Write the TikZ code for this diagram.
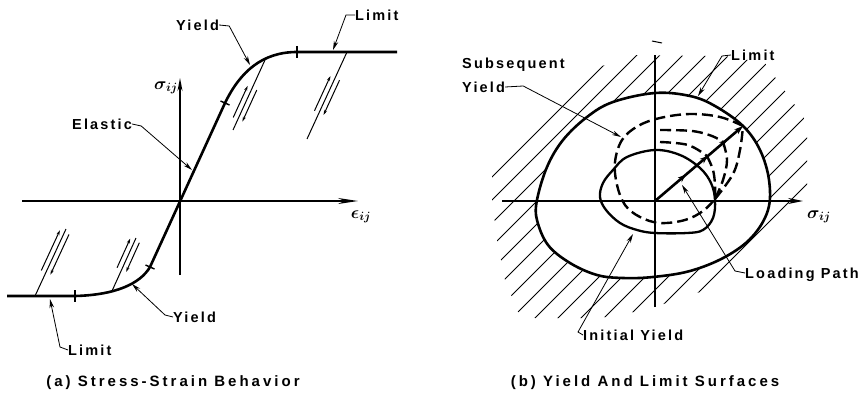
\documentclass[tikz,border=0pt]{standalone}
\usepackage{fontspec}
\setmainfont{Liberation Sans}
\newfontfamily\lblfont[LetterSpace=15]{Liberation Sans Bold}
\newfontfamily\capfont[LetterSpace=20]{Liberation Sans Bold}
\usetikzlibrary{arrows.meta,decorations.markings,calc}
\newcommand{\updownarrows}[4]{%
  \draw[half] ($(#1)!#3!(#2)!5pt!90:(#2)$) -- ($(#1)!#4!(#2)!5pt!90:(#2)$);
  \draw[half] ($(#1)!#4!(#2)!5pt!-90:(#2)$) -- ($(#1)!#3!(#2)!5pt!-90:(#2)$);}
\begin{document}
\begin{tikzpicture}[x=1pt,y=-1pt,
  lbl/.style={font=\lblfont\fontsize{14.5}{16}\selectfont, inner sep=0pt, text depth=0pt, anchor=west},
  captext/.style={font=\capfont\fontsize{15}{17}\selectfont, inner sep=0pt},
  sym/.style={font=\fontsize{17}{19}\selectfont\boldmath, inner sep=0pt},
  axis/.style={line width=1.6pt},
  mcurve/.style={line width=2.6pt, line join=round},
  unload/.style={line width=1pt},
  leader/.style={line width=0.8pt, -{Stealth[length=9pt,width=4.5pt]}},
  tickmark/.style={line width=1.4pt},
  half/.style={line width=1pt, -{Stealth[length=5pt,width=3pt]}},
  dcurve/.style={line width=2.4pt, dash pattern=on 11pt off 5pt},
  hatchline/.style={line width=0.9pt},
  loadpath/.style={line width=2.6pt, -{Stealth[length=9pt,width=6pt]},
    postaction={decorate, decoration={markings,
      mark=at position 0.35 with {\arrow{Stealth[length=8pt,width=6pt]}},
      mark=at position 0.6 with {\arrow{Stealth[length=8pt,width=6pt]}},
      mark=at position 0.82 with {\arrow{Stealth[length=8pt,width=6pt]}}}}},
]
\useasboundingbox (0,0) rectangle (861,393);

% ================= (a) =================
\coordinate (axL) at (22,201);
\coordinate (axR) at (358,201);
\coordinate (ayB) at (180,275);
\coordinate (ayT) at (180,78);
\draw[axis, -{Stealth[length=20pt,width=6pt]}] (axL) -- (axR);
\draw[axis, -{Stealth[length=13pt,width=5pt]}] (ayB) -- (ayT);

\draw[mcurve] (7,296) -- (75,296) .. controls (115,295) and (140,284) .. (150,267)
  -- (225,103) .. controls (240,72) and (262,52) .. (297,52) -- (397,52);

% ticks
\draw[tickmark] (220.5,101) -- (229.5,105);
\draw[tickmark] (297,46) -- (297,58);
\draw[tickmark] (145.5,265) -- (154.5,269);
\draw[tickmark] (75,290) -- (75,302);

% unloading lines
\coordinate (u1b) at (233,130); \coordinate (u1t) at (265,60);
\coordinate (u2b) at (307,139); \coordinate (u2t) at (347,52);
\coordinate (l1b) at (112,291); \coordinate (l1t) at (136,238);
\coordinate (l2b) at (35,296);  \coordinate (l2t) at (66,229);
\draw[unload] (u1b) -- (u1t);
\draw[unload] (u2b) -- (u2t);
\draw[unload] (l1b) -- (l1t);
\draw[unload] (l2b) -- (l2t);
\updownarrows{u1b}{u1t}{0.15}{0.6}
\updownarrows{u2b}{u2t}{0.3}{0.7}
\updownarrows{l1b}{l1t}{0.4}{0.95}
\updownarrows{l2b}{l2t}{0.35}{0.95}

% labels (a)
\node[lbl] (yieldU) at (176,25) {Yield};
\node[lbl] (limU) at (355,15) {Limit};
\node[lbl] (elas) at (72,124) {Elastic};
\node[lbl] (yieldL) at (173,317) {Yield};
\node[lbl] (limL) at (68,350) {Limit};
\node[sym] (sigA) at (166,88) {$\sigma_{ij}$};
\node[sym] (epsA) at (361,217) {$\epsilon_{ij}$};
\node[captext] (capA) at (173,383) {(a) Stress-Strain Behavior};

\coordinate (tYU) at (250,65);
\coordinate (tLU) at (333,50);
\coordinate (tE) at (192,170);
\coordinate (tYL) at (132,284);
\coordinate (tLL) at (50,299);
\draw[leader] (yieldU.east) -- ++(10,1) -- (tYU);
\draw[leader] (limU.west) -- ++(-9,0) -- (tLU);
\draw[leader] (elas.east) -- ++(9,2) -- (tE);
\draw[leader] (yieldL.west) -- ++(-8,-2) -- (tYL);
\draw[leader] (limL.west) -- ++(-8,-3) -- (tLL);

% ================= (b) =================
% hatching
\begin{scope}[even odd rule, smooth cycle, tension=0.6]
\clip (492,200) -- (492,172) -- (596,68) -- (635,55) -- (725,56) -- (765,63)
  -- (807,122) -- (807,190) -- (700,292) -- (645,310) -- (600,318) -- (535,318)
  -- (518,312) -- (505,280) -- (497,240) -- cycle
  plot coordinates {(768,210) (752,237) (725,257) (690,271)
  (653,277) (623,278) (597,275) (570,263) (548,245) (537,220) (537,200) (547,167)
  (563,140) (587,117) (613,102) (655,93) (690,96) (715,106) (743,126) (760,150) (769,180)};
\foreach \c in {669,692,...,1010} \draw[hatchline] (450,\c-450) -- (850,\c-850);
\end{scope}

\coordinate (bxL) at (502,201);
\coordinate (bxR) at (803,201);
\coordinate (byB) at (655,307);
\coordinate (byT) at (655,55);
\draw[axis, -{Stealth[length=15pt,width=6pt]}] (bxL) -- (bxR);
\draw[axis] (byB) -- (byT);
\draw[line width=1pt] (652,41) -- (662,43);

% limit surface
\draw[mcurve] plot[smooth cycle, tension=0.6] coordinates {(768,210) (752,237) (725,257) (690,271)
  (653,277) (623,278) (597,275) (570,263) (548,245) (537,220) (537,200) (547,167)
  (563,140) (587,117) (613,102) (655,93) (690,96) (715,106) (743,126) (760,150) (769,180)};
% initial yield
\draw[mcurve, line width=2.3pt] plot[smooth cycle, tension=0.6] coordinates {(655,150) (680,155)
  (700,168) (711,183) (715,200) (713,218) (703,230) (687,233) (655,233) (637,230)
  (620,223) (606,210) (600,197) (603,183) (613,170) (627,157)};
% subsequent yield surfaces
\draw[dcurve] plot[smooth, tension=0.6] coordinates {(743,126) (720,117) (690,114) (660,118)
  (638,126) (622,140) (615,162) (617,185) (625,205) (640,217) (660,223) (685,220)
  (703,211) (715,199)};
\draw[dcurve] plot[smooth, tension=0.6] coordinates {(715,199) (733,174) (740,150) (743,126)};
\draw[dcurve] plot[smooth, tension=0.6] coordinates {(660,130) (692,131) (712,136) (723,142)};
\draw[dcurve] plot[smooth, tension=0.6] coordinates {(723,142) (727,160) (723,180) (715,199)};
\draw[dcurve] plot[smooth, tension=0.6] coordinates {(660,142) (688,145) (707,156)};
\draw[dcurve] plot[smooth, tension=0.6] coordinates {(707,156) (713,170) (715,185) (715,199)};

% loading path
\coordinate (Ob) at (655,201);
\coordinate (P1) at (743,126);
\draw[loadpath] (Ob) -- (P1);

% labels (b)
\node[lbl] (subs) at (462,63) {Subsequent};
\node[lbl] (subsY) at (462,87) {Yield};
\node[lbl] (limR) at (731,55) {Limit};
\node[lbl] (loadp) at (745,273) {Loading Path};
\node[lbl] (iniY) at (583,335) {Initial Yield};
\node[sym] (sigB) at (819,217) {$\sigma_{ij}$};
\node[captext] (capB) at (645,383) {(b) Yield And Limit Surfaces};

\coordinate (tSY) at (621,137);
\coordinate (tLR) at (698,96);
\coordinate (tLP) at (682,185);
\coordinate (tIY) at (633,234);
\draw[leader] (subsY.east) -- ++(18,-1) -- (tSY);
\draw[leader] (limR.west) -- ++(-9,1) -- (tLR);
\draw[leader] (loadp.west) -- ++(-10,-2) -- (tLP);
\draw[leader] (iniY.west) -- ++(-5,-3) -- (tIY);
\end{tikzpicture}
\end{document}
